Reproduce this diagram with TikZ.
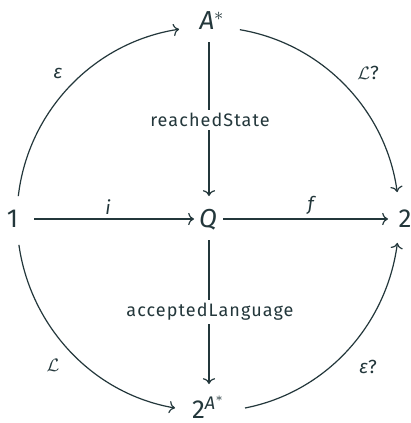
\documentclass[tikz,border=0pt]{standalone}
\usepackage{amsmath}
\usepackage{fontspec}
\setmainfont{Fira Sans}
\usetikzlibrary{arrows.meta,calc}
\definecolor{mdark}{HTML}{23373B}
\begin{document}
\begin{tikzpicture}[x=0.5pt,y=-0.5pt,
  every node/.style={text=mdark},
  obj/.style={anchor=base, inner sep=0pt, font=\fontsize{13}{15}\selectfont},
  lbl/.style={inner sep=1pt, font=\fontsize{9.5}{11}\selectfont},
  wlbl/.style={inner sep=1.5pt, fill=white, font=\fontsize{9}{11}\selectfont\addfontfeatures{LetterSpace=6}},
  arr/.style={draw=mdark, line width=0.6pt, -{Computer Modern Rightarrow}}]
\fill[white] (0,0) rectangle (411,423);
\useasboundingbox (0,0) rectangle (411,423);
% objects
\node[obj] (n1) at (12.5,227) {1};
\node[obj] (Q) at (208,227) {\textit{Q}};
\node[obj] (n2) at (405,227) {2};
\node[obj] (A) at (212,29) {\textit{A}$^{*}$};
\node[obj] (B) at (208.5,418) {2$^{\textit{A}^{*}}$};
% straight arrows
\draw[arr] ($(n1.base)+(21.5,-8)$) -- ($(Q.base)+(-14,-8)$);
\draw[arr] ($(Q.base)+(15,-8)$) -- ($(n2.base)+(-17,-8)$);
\draw[arr] ($(A.base)+(-3,13)$) -- ($(Q.base)+(1,-31)$);
\draw[arr] ($(Q.base)+(1,13)$) -- ($(B.base)+(0.5,-34)$);
% arcs
\draw[arr] ($(n1.base)+(5.8,-30.9)$) to[out=83.4,in=188.7,looseness=0.95] ($(A.base)+(-32.9,0.2)$);
\draw[arr] ($(A.base)+(27.9,0.7)$) to[out=-9.6,in=97.8,looseness=0.94] ($(n2.base)+(-7.8,-34.9)$);
\draw[arr] ($(n1.base)+(6.4,17.9)$) to[out=278.1,in=170.2,looseness=0.94] ($(B.base)+(-33.5,-10)$);
\draw[arr] ($(B.base)+(36.5,-10)$) to[out=11,in=262.5,looseness=0.94] ($(n2.base)+(-7.6,15.9)$);
% labels
\node[lbl] (le) at (58,73) {\textit{ε}};
\node[lbl] (lLq) at (368,73) {$\mathcal{L}$?};
\node[lbl] (lL) at (53,365) {$\mathcal{L}$};
\node[lbl] (leq) at (368,367) {\textit{ε}?};
\node[lbl] (li) at (108,207) {\textit{i}};
\node[lbl] (lf) at (312,205) {\textit{f}};
\node[wlbl] (lrs) at (210,120) {reachedState};
\node[wlbl] (lal) at (210,312) {acceptedLanguage};
\end{tikzpicture}
\end{document}
